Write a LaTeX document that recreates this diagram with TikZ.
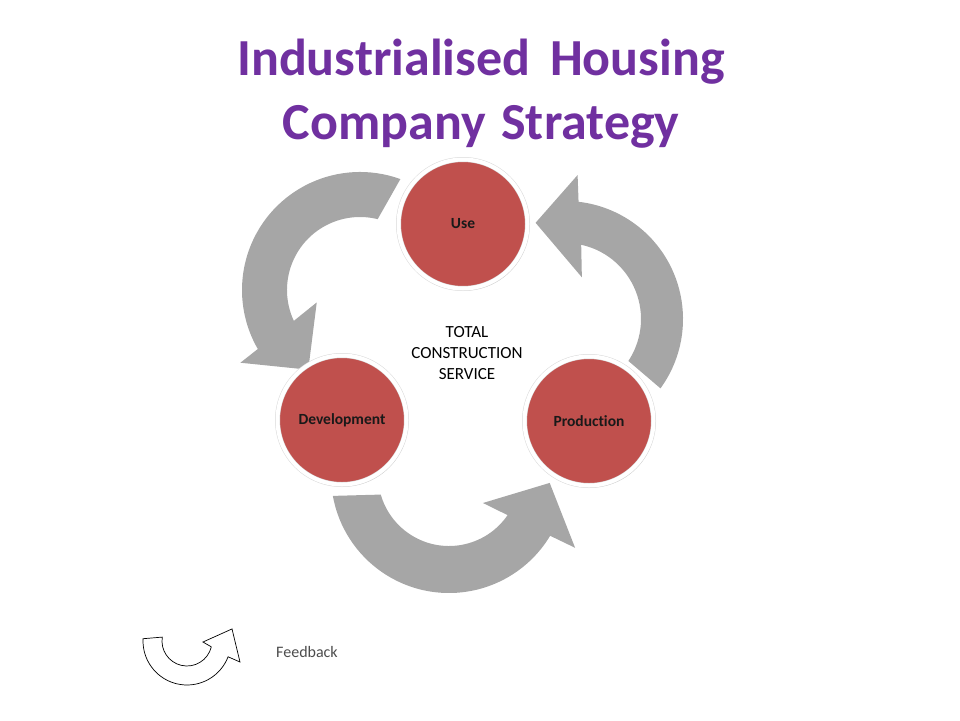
\documentclass[tikz,border=0pt]{standalone}
\usepackage{fontspec}
\setmainfont{Carlito}[Ligatures=NoCommon]
\usetikzlibrary{calc}
\usetikzlibrary{shadows}

\definecolor{titlepurple}{RGB}{112,48,160}
\definecolor{stagered}{RGB}{192,80,77}
\definecolor{loopgrey}{RGB}{166,166,166}

\tikzset{
	title/.style={anchor=base, inner sep=0pt, text=titlepurple, font=\bfseries\fontsize{52}{60}\selectfont},
	stage/.style={circle, fill=stagered, draw=black!15, line width=0.5pt, double=white, double distance=4pt,
		minimum size=129pt, inner sep=0pt, text=black!90, font=\bfseries\fontsize{15.5}{18}\selectfont,
		drop shadow={shadow xshift=1.5pt, shadow yshift=-2pt, fill=black!45, opacity=.5}},
	looparrow/.style={fill=loopgrey},
	core/.style={align=center, inner sep=0pt, font=\fontsize{17}{21}\selectfont},
}

\begin{document}
\begin{tikzpicture}[x=1pt, y=-1pt]
	\useasboundingbox (0,0) rectangle (960,720);

	\node[title] (head) at (481,75) {Industrialised\hspace{8pt} Housing};
	\node[title] (subhead) at (481,139) {Company\hspace{4pt} Strategy};

	\coordinate (cl) at (360,290);
	\coordinate (cr) at (565,319);
	\coordinate (cb) at (449,475);

	\fill[looparrow] (cl) ++(-70:118) arc[start angle=-70, end angle=-210, radius=118]
		-- ($(cl)+(148.7:140)$) -- ($(cl)+(123:95)$) -- ($(cl)+(164:45)$)
		-- ($(cl)+(155:73)$) arc[start angle=155, end angle=284, radius=73] -- cycle;
	\fill[looparrow] (cr) ++(36:118) arc[start angle=36, end angle=-83.4, radius=118]
		-- ($(cr)+(-85:144.5)$) -- ($(cr)+(-107:100.6)$) -- ($(cr)+(-68:45)$)
		-- ($(cr)+(-77.7:76)$) arc[start angle=-77.7, end angle=33.5, radius=76] -- cycle;
	\fill[looparrow] (cb) ++(169.8:118) arc[start angle=169.8, end angle=31, radius=118]
		-- ($(cb)+(30:145.6)$) -- ($(cb)+(4.5:101)$) -- ($(cb)+(39.5:44)$)
		-- ($(cb)+(34.4:71)$) arc[start angle=34.4, end angle=164, radius=71] -- cycle;

	\node[stage] (use) at (463,224) {Use};
	\node[stage] (dev) at (342,420) {Development};
	\node[stage] (prod) at (589,421) {Production};

	\node[core] (tcs) at (467,353.5) {TOTAL\\CONSTRUCTION\\SERVICE};

	\coordinate (fb) at (187,641);
	\filldraw[fill=white, draw=black, line width=0.7pt] (fb) ++(-177:44) arc[start angle=-177, end angle=-339, radius=44]
		-- ($(fb)+(21.6:57)$) -- ($(fb)+(-15:46.6)$) -- ($(fb)+(3.6:16)$)
		-- ($(fb)+(13.5:25)$) arc[start angle=13.5, end angle=189, radius=25] -- cycle;
	\node[anchor=base west, inner sep=0pt, text=black!70, font=\fontsize{16}{18}\selectfont] (fbtext) at (276,657) {Feedback};
\end{tikzpicture}
\end{document}
